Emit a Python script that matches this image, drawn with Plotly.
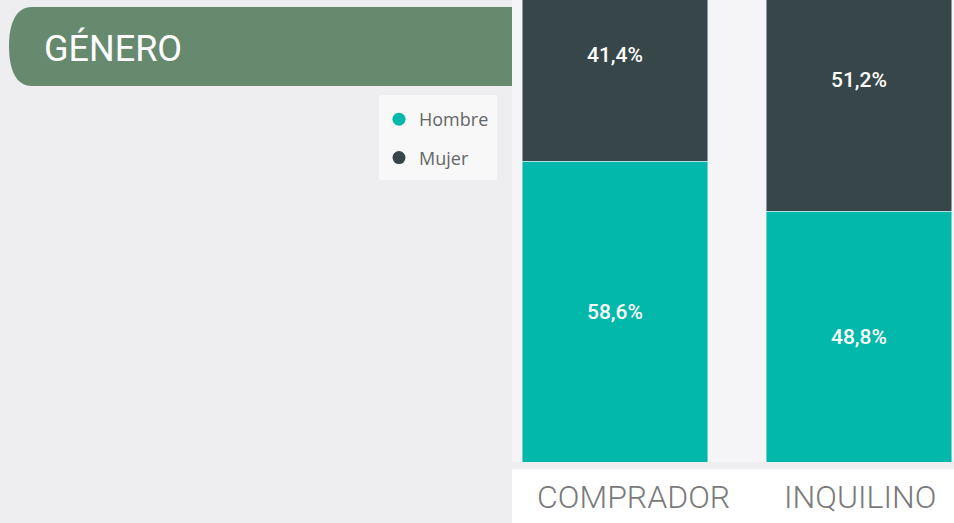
import plotly.graph_objects as go

categories = ["COMPRADOR", "INQUILINO"]
hombre = [58.6, 48.8]
mujer = [41.4, 51.2]
series_names = ["Hombre", "Mujer"]
title_text = "GÉNERO"

TEAL = "#01B8AA"
DARK = "#374649"
W, H = 954, 523
PLOT_BOTTOM = 462

def px(x):
    return x / W

def py(y):
    return (PLOT_BOTTOM - y) / PLOT_BOTTOM

def fmt(v):
    return f"{v:.1f}".replace(".", ",") + "%"

fig = go.Figure()
fig.add_trace(go.Bar(x=[0, 1], y=hombre, name=series_names[0], marker_color=TEAL,
                     width=0.76, showlegend=False, hoverinfo="skip"))
fig.add_trace(go.Bar(x=[0, 1], y=mujer, name=series_names[1], marker_color=DARK,
                     width=0.76, showlegend=False, hoverinfo="skip"))
# legend entries (circle markers)
fig.add_trace(go.Scatter(x=[None], y=[None], mode="markers", name=series_names[0],
                         legendgroup="h",
                         marker=dict(color=TEAL, size=13, symbol="circle")))
fig.add_trace(go.Scatter(x=[None], y=[None], mode="markers", name=series_names[1],
                         legendgroup="m",
                         marker=dict(color=DARK, size=13, symbol="circle")))

annotations = []
for i, (h, m) in enumerate(zip(hombre, mujer)):
    annotations.append(dict(x=i, y=h / 2, xref="x", yref="y", text=fmt(h), showarrow=False,
                            font=dict(family="Roboto", size=21, color="white", weight=500)))
    annotations.append(dict(x=i, y=h + m / 2, xref="x", yref="y", text=fmt(m), showarrow=False,
                            font=dict(family="Roboto", size=21, color="white", weight=500)))
label_shift = [18, 1]
for i, c in enumerate(categories):
    annotations.append(dict(x=i, y=py(497), xref="x", yref="paper", text=c, showarrow=False,
                            xshift=label_shift[i], yanchor="middle",
                            font=dict(family="Roboto", size=32, color="#7a7a7a", weight=300)))
annotations.append(dict(x=px(42), y=py(48), xref="paper", yref="paper", text=title_text,
                        showarrow=False, xanchor="left", yanchor="middle",
                        font=dict(family="Roboto", size=36, color="white")))

shapes = [
    # white right panel
    dict(type="rect", xref="paper", yref="paper", x0=px(512), x1=1, y0=py(523), y1=py(469),
         fillcolor="#ffffff", line=dict(width=0), layer="below"),
    # header pill
    dict(type="path", xref="paper", yref="paper",
         path=(f"M {px(512)},{py(7)} L {px(32)},{py(7)} "
               f"C {px(15)},{py(7)} {px(9)},{py(25)} {px(9)},{py(46)} "
               f"C {px(9)},{py(68)} {px(15)},{py(86)} {px(32)},{py(86)} "
               f"L {px(512)},{py(86)} Z"),
         fillcolor="#678a6f", line=dict(width=0), layer="below"),
    # legend box
    dict(type="rect", xref="paper", yref="paper", x0=px(379), x1=px(497), y0=py(180), y1=py(95),
         fillcolor="#f8f8f9", line=dict(width=0), layer="below"),
]

fig.update_layout(
    width=W, height=H,
    barmode="stack",
    margin=dict(l=0, r=0, t=0, b=H - PLOT_BOTTOM, pad=0),
    paper_bgcolor="#eeedef",
    plot_bgcolor="#f5f4f6",
    xaxis=dict(domain=[px(512), 1], range=[-103 / 244, 1 + 95 / 244], showticklabels=False,
               showgrid=False, zeroline=False, fixedrange=True),
    yaxis=dict(range=[0, 90], showticklabels=False, showgrid=False, zeroline=False,
               fixedrange=True),
    showlegend=True,
    legend=dict(x=px(379), y=py(101), xanchor="left", yanchor="top",
                bgcolor="rgba(0,0,0,0)", borderwidth=0, traceorder="grouped",
                font=dict(family="Segoe UI, Open Sans, sans-serif", size=18, color="#666666"),
                itemwidth=30, tracegroupgap=12),
    annotations=annotations,
    shapes=shapes,
)

fig.write_html("out.html", config={"displayModeBar": False},
               post_script="document.body.style.margin='0';document.body.style.overflow='hidden';")
